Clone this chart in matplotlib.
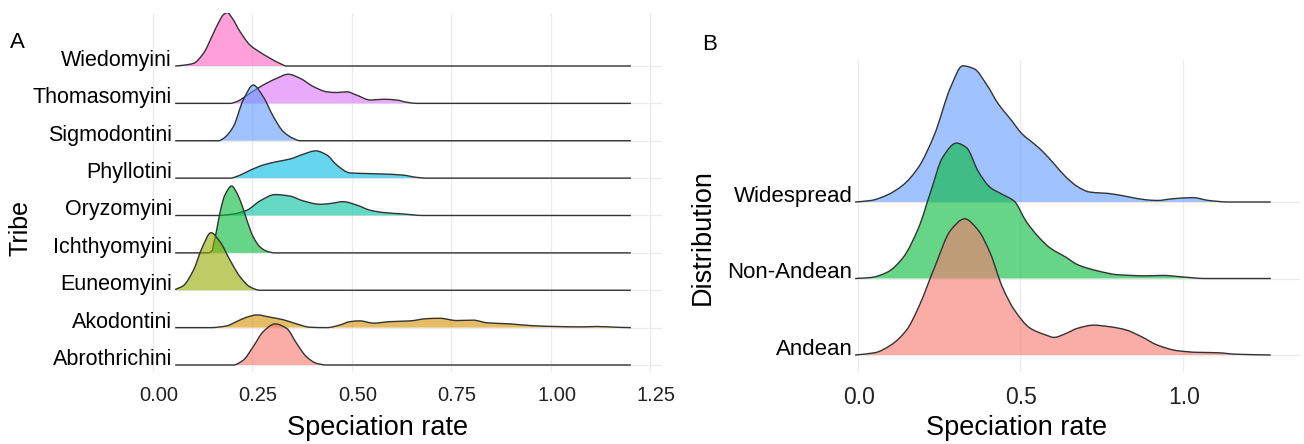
import matplotlib
matplotlib.use("Agg")
import matplotlib.pyplot as plt
from matplotlib.path import Path
from matplotlib.patches import PathPatch
from matplotlib.transforms import ScaledTranslation

# ---------------- Panel A data (density profiles) ----------------
tribes = ["Abrothrichini", "Akodontini", "Euneomyini", "Ichthyomyini", "Oryzomyini",
          "Phyllotini", "Sigmodontini", "Thomasomyini", "Wiedomyini"]
tribe_colors = ["#F8766D", "#D39200", "#93AA00", "#00BA38", "#00C19F",
                "#00B9E3", "#619CFF", "#DB72FB", "#FF61C3"]
range_a = (0.057, 1.202)

abrothrichini_x = [0.203, 0.228, 0.253, 0.278, 0.308, 0.337, 0.362, 0.387, 0.412, 0.438]
abrothrichini_h = [0.0, 0.13, 0.49, 0.89, 1.10, 0.98, 0.58, 0.22, 0.045, 0.0]

akodontini_x = [0.145, 0.186, 0.211, 0.237, 0.262, 0.295, 0.329, 0.362, 0.396, 0.438,
                0.471, 0.496, 0.521, 0.555, 0.597, 0.647, 0.689, 0.722, 0.764, 0.806,
                0.840, 0.898, 0.957, 1.016, 1.083, 1.116, 1.166]
akodontini_h = [0.0, 0.045, 0.16, 0.28, 0.34, 0.28, 0.21, 0.10, 0.01, 0.0,
                0.07, 0.16, 0.18, 0.12, 0.16, 0.18, 0.24, 0.25, 0.19, 0.20,
                0.13, 0.10, 0.05, 0.03, 0.02, 0.03, 0.01]

euneomyini_x = [0.057, 0.077, 0.103, 0.124, 0.147, 0.170, 0.195, 0.220, 0.245, 0.270]
euneomyini_h = [0.02, 0.12, 0.54, 1.12, 1.54, 1.29, 0.80, 0.36, 0.09, 0.0]

ichthyomyini_x = [0.140, 0.149, 0.155, 0.161, 0.170, 0.182, 0.199, 0.211, 0.224, 0.237,
                  0.253, 0.270, 0.287, 0.308]
ichthyomyini_h = [0.0, 0.05, 0.30, 0.60, 1.10, 1.55, 1.79, 1.62, 1.30, 0.88,
                  0.43, 0.16, 0.045, 0.0]

oryzomyini_x = [0.161, 0.203, 0.237, 0.270, 0.308, 0.345, 0.379, 0.421, 0.446, 0.479,
                0.513, 0.547, 0.580, 0.630, 0.681]
oryzomyini_h = [0.0, 0.04, 0.14, 0.39, 0.56, 0.52, 0.39, 0.30, 0.32, 0.37,
                0.28, 0.14, 0.08, 0.04, 0.0]

phyllotini_x = [0.195, 0.220, 0.245, 0.278, 0.312, 0.345, 0.379, 0.410, 0.438, 0.463,
                0.496, 0.530, 0.580, 0.630, 0.664, 0.689]
phyllotini_h = [0.0, 0.08, 0.21, 0.35, 0.44, 0.51, 0.64, 0.73, 0.62, 0.35,
                0.14, 0.125, 0.11, 0.08, 0.02, 0.0]

sigmodontini_x = [0.166, 0.178, 0.203, 0.228, 0.253, 0.278, 0.304, 0.329, 0.354, 0.371]
sigmodontini_h = [0.0, 0.06, 0.375, 1.09, 1.49, 1.18, 0.64, 0.24, 0.06, 0.0]

thomasomyini_x = [0.195, 0.211, 0.245, 0.278, 0.312, 0.341, 0.371, 0.404, 0.438, 0.463,
                  0.488, 0.513, 0.547, 0.580, 0.613, 0.639, 0.664]
thomasomyini_h = [0.0, 0.045, 0.27, 0.49, 0.67, 0.78, 0.67, 0.45, 0.31, 0.29,
                  0.31, 0.22, 0.09, 0.11, 0.09, 0.03, 0.0]

wiedomyini_x = [0.077, 0.103, 0.128, 0.153, 0.165, 0.178, 0.188, 0.199, 0.220, 0.245,
                0.270, 0.295, 0.320, 0.337]
wiedomyini_h = [0.02, 0.07, 0.34, 0.875, 1.14, 1.37, 1.43, 1.30, 0.92, 0.56,
                0.37, 0.21, 0.07, 0.0]

tribe_x = [abrothrichini_x, akodontini_x, euneomyini_x, ichthyomyini_x, oryzomyini_x,
           phyllotini_x, sigmodontini_x, thomasomyini_x, wiedomyini_x]
tribe_h = [abrothrichini_h, akodontini_h, euneomyini_h, ichthyomyini_h, oryzomyini_h,
           phyllotini_h, sigmodontini_h, thomasomyini_h, wiedomyini_h]
ticks_a = [0.00, 0.25, 0.50, 0.75, 1.00, 1.25]
tick_labels_a = ["0.00", "0.25", "0.50", "0.75", "1.00", "1.25"]

# ---------------- Panel B data ----------------
distributions = ["Andean", "Non-Andean", "Widespread"]
dist_colors = ["#F8766D", "#00BA38", "#619CFF"]
range_b = (-0.009, 1.27)

andean_x = [0.052, 0.101, 0.150, 0.187, 0.236, 0.285, 0.328, 0.370, 0.407,
            0.444, 0.481, 0.530, 0.579, 0.603, 0.639, 0.676, 0.725, 0.774, 0.823,
            0.872, 0.921, 0.982, 1.043, 1.104, 1.165]
andean_h = [0.03, 0.13, 0.33, 0.63, 1.15, 1.63, 1.78, 1.63, 1.33,
            0.89, 0.59, 0.35, 0.26, 0.23, 0.28, 0.35, 0.39, 0.37, 0.33,
            0.24, 0.13, 0.057, 0.035, 0.03, 0.01]

nonandean_x = [0.040, 0.089, 0.138, 0.187, 0.224, 0.260, 0.303, 0.334, 0.370,
               0.407, 0.444, 0.481, 0.517, 0.554, 0.591, 0.639, 0.676, 0.737, 0.798,
               0.884, 0.939, 1.000, 1.067]
nonandean_h = [0.013, 0.08, 0.27, 0.67, 1.14, 1.58, 1.77, 1.71, 1.40,
               1.19, 1.10, 1.01, 0.75, 0.55, 0.40, 0.28, 0.18, 0.10, 0.05,
               0.035, 0.04, 0.02, 0.0]

widespread_x = [0.040, 0.089, 0.138, 0.187, 0.236, 0.285, 0.322, 0.358, 0.395,
                0.432, 0.468, 0.505, 0.542, 0.566, 0.603, 0.639, 0.676, 0.713, 0.774,
                0.835, 0.884, 0.921, 0.969, 1.031, 1.079, 1.141]
widespread_h = [0.02, 0.09, 0.22, 0.46, 0.89, 1.50, 1.78, 1.74, 1.54,
                1.28, 1.09, 0.89, 0.76, 0.67, 0.50, 0.33, 0.20, 0.13, 0.11,
                0.065, 0.03, 0.02, 0.043, 0.057, 0.02, 0.0]

dist_x = [andean_x, nonandean_x, widespread_x]
dist_h = [andean_h, nonandean_h, widespread_h]
ticks_b = [0.0, 0.5, 1.0]
tick_labels_b = ["0.0", "0.5", "1.0"]

# ---------------- Figure ----------------
W, H = 1304, 444
plt.rcParams['font.family'] = ['Liberation Sans', 'DejaVu Sans']
fig = plt.figure(figsize=(W / 100, H / 100), dpi=100)
fig.patch.set_facecolor("white")


def box(l, t, r, b):
    return [l / W, 1 - b / H, (r - l) / W, (b - t) / H]


GRID = "#EBEBEB"
LINE = "#333333"


def pchip_slopes(xs, ys):
    n = len(xs)
    hs = [xs[k + 1] - xs[k] for k in range(n - 1)]
    ds = [(ys[k + 1] - ys[k]) / hs[k] for k in range(n - 1)]
    m = [0.0] * n
    m[0] = 0.0 if n < 2 else ds[0]
    m[-1] = ds[-1]
    for k in range(1, n - 1):
        if ds[k - 1] * ds[k] <= 0:
            m[k] = 0.0
        else:
            w1 = 2 * hs[k] + hs[k - 1]
            w2 = hs[k] + 2 * hs[k - 1]
            m[k] = (w1 + w2) / (w1 / ds[k - 1] + w2 / ds[k])
    # flat ends on baseline
    if ys[0] == ys[1]:
        m[0] = 0.0
    if ys[-1] == ys[-2]:
        m[-1] = 0.0
    return m


def smooth_path(xs, ys):
    """Shape-preserving cubic Bezier path through the given points."""
    m = pchip_slopes(xs, ys)
    verts = [(xs[0], ys[0])]
    codes = [Path.MOVETO]
    for k in range(len(xs) - 1):
        dx = xs[k + 1] - xs[k]
        c1 = (xs[k] + dx / 3, ys[k] + m[k] * dx / 3)
        c2 = (xs[k + 1] - dx / 3, ys[k + 1] - m[k + 1] * dx / 3)
        verts += [c1, c2, (xs[k + 1], ys[k + 1])]
        codes += [Path.CURVE4] * 3
    return verts, codes


def ridges(ax, names, colors, xs_list, hs_list, rng, ticks, tick_labels,
           label_size, tick_size, tick_dx):
    xmax = ax.get_xlim()[1]
    for t in ticks:
        ax.axvline(t, color=GRID, lw=0.9, zorder=0)
    for i in range(len(names)):
        ax.plot([rng[0], xmax], [i, i], color=GRID, lw=0.9, zorder=0)
    n = len(names)
    for i in reversed(range(n)):
        xs = [rng[0]] + list(xs_list[i]) + [rng[1]]
        hs = [0.0] + list(hs_list[i]) + [0.0]
        if xs[1] - xs[0] < 1e-9:
            xs, hs = xs[1:], hs[1:]
        ys = [i + h for h in hs]
        z = 2 + (n - i) * 2
        verts, codes = smooth_path(xs, ys)
        fverts = verts + [(xs[-1], i), (xs[0], i), (xs[0], i)]
        fcodes = codes + [Path.LINETO, Path.LINETO, Path.CLOSEPOLY]
        ax.add_patch(PathPatch(Path(fverts, fcodes), facecolor=colors[i], alpha=0.6,
                               lw=0, zorder=z))
        ax.add_patch(PathPatch(Path(verts, codes), facecolor='none', edgecolor=LINE,
                               lw=1.0, zorder=z + 1, joinstyle='round', capstyle='butt'))
        ax.text(rng[0] - 0.008, i, names[i], ha='right', va='baseline',
                fontsize=label_size, color='black', zorder=50)
    ax.set_xticks(ticks)
    ax.set_xticklabels(tick_labels, fontsize=tick_size, color='#222222')
    ax.tick_params(axis='x', length=0, pad=10)
    off = ScaledTranslation(tick_dx / 100.0, 0, fig.dpi_scale_trans)
    for lab in ax.get_xticklabels():
        lab.set_transform(lab.get_transform() + off)
    ax.set_yticks([])
    for s in ax.spines.values():
        s.set_visible(False)
    ax.set_facecolor('none')


# Panel A
axA = fig.add_axes(box(140, 13, 662, 372))
axA.set_xlim((140 - 152.5) / 398, (662 - 152.5) / 398)
axA.set_ylim((365 - 372) / 37.375, (365 - 13) / 37.375)
ridges(axA, tribes, tribe_colors, tribe_x, tribe_h, range_a, ticks_a, tick_labels_a,
       15.5, 14.5, 6)

# Panel B
axB = fig.add_axes(box(840, 60, 1300, 372))
axB.set_xlim((840 - 858) / 325, (1300 - 858) / 325)
axB.set_ylim((355 - 372) / 76.5, (355 - 60) / 76.5)
ridges(axB, distributions, dist_colors, dist_x, dist_h, range_b, ticks_b, tick_labels_b,
       16, 16.5, 1)

# Titles and labels
fig.text(378 / W, 1 - 428 / H, "Speciation rate", ha='center', va='center', fontsize=19.5)
fig.text(1017 / W, 1 - 428 / H, "Speciation rate", ha='center', va='center', fontsize=19.5)
fig.text(20 / W, 1 - 228 / H, "Tribe", ha='center', va='center', rotation=90, fontsize=18)
fig.text(703 / W, 1 - 237 / H, "Distribution", ha='center', va='center', rotation=90, fontsize=19.5)
fig.text(17 / W, 1 - 43 / H, "A", ha='center', va='center', fontsize=16)
fig.text(710 / W, 1 - 44 / H, "B", ha='center', va='center', fontsize=16)

fig.savefig("out.png", dpi=100, facecolor='white')
